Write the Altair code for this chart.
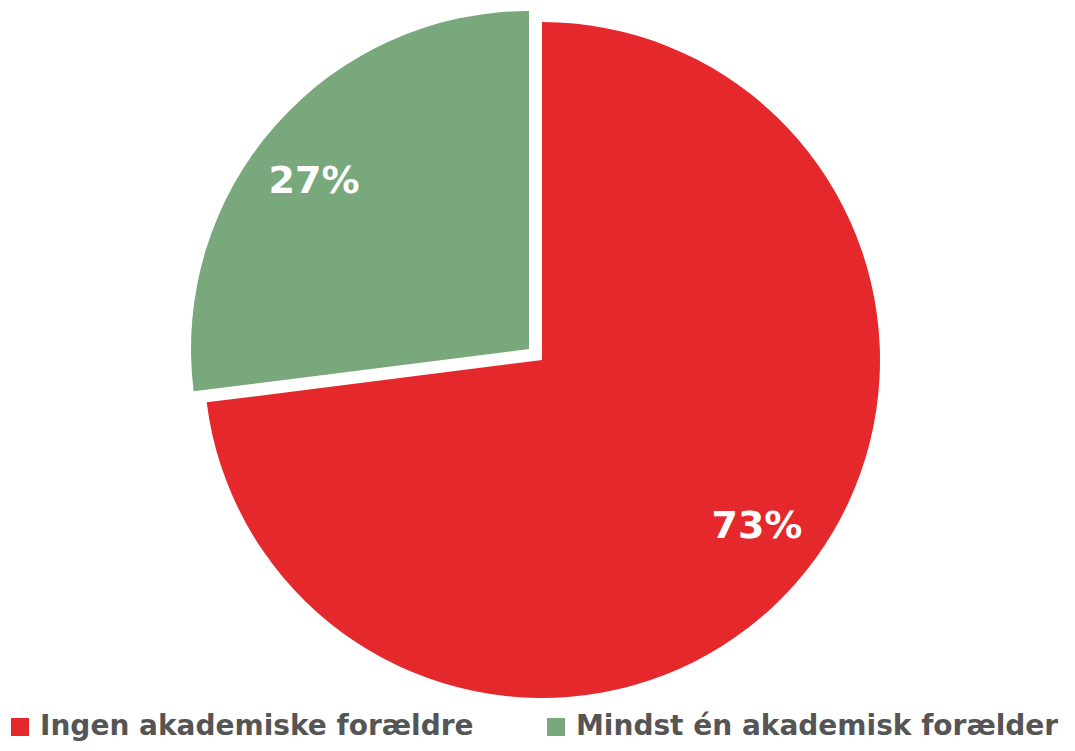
import altair as alt
import pandas as pd

categories = ["Ingen akademiske forældre", "Mindst én akademisk forælder"]
values = [73, 27]
labels = ["73%", "27%"]
colors = ["#E4282C", "#78A87C"]

df = pd.DataFrame({"cat": categories, "value": values, "label": labels, "order": [0, 1]})

CX, CY, R, RL = 534, 352, 338, 272
EX_DX, EX_DY = -13, -11
LABEL_SHIFT = -1.0  # in percent units

base = alt.Chart(df).transform_window(
    end="sum(value)", sort=[alt.SortField("order")], frame=[None, 0]
).transform_calculate(
    start="datum.end - datum.value",
    mid=f"(datum.start + datum.end) / 2 + {LABEL_SHIFT}",
    cx=f"{CX} + (datum.order == 1 ? {EX_DX} : 0)",
    cy=f"{CY} + (datum.order == 1 ? {EX_DY} : 0)",
).transform_calculate(
    lx=f"datum.cx + {RL} * sin(datum.mid / 100 * 2 * PI)",
    ly=f"datum.cy - {RL} * cos(datum.mid / 100 * 2 * PI)",
)

arcs = base.mark_arc(radius=R).encode(
    theta=alt.Theta("start:Q", scale=alt.Scale(domain=[0, 100], range=[0, 6.283185307])),
    theta2="end:Q",
    x=alt.X("cx:Q", scale=None, axis=None),
    y=alt.Y("cy:Q", scale=None, axis=None),
    color=alt.Color(
        "cat:N",
        scale=alt.Scale(domain=categories, range=colors),
        sort=categories,
        legend=alt.Legend(
            title=None,
            orient="none",
            legendX=-2,
            legendY=705,
            direction="horizontal",
            symbolType="square",
            symbolSize=324,
            symbolStrokeWidth=0,
            labelFont="DejaVu Sans",
            labelFontWeight="bold",
            labelFontSize=28,
            labelColor="#555555",
            labelLimit=1000,
            columnPadding=68,
            symbolOffset=0,
            labelOffset=6,
        ),
    ),
)

texts = base.mark_text(
    font="DejaVu Sans", fontWeight="bold", fontSize=38, color="white",
    align="center", baseline="middle",
).encode(
    x=alt.X("lx:Q", scale=None, axis=None),
    y=alt.Y("ly:Q", scale=None, axis=None),
    text="label:N",
)

chart = alt.layer(arcs, texts).properties(
    width=1059, height=735, padding=0, autosize=alt.AutoSizeParams(type="none")
).configure_view(stroke=None)

chart.save("out.html", embed_options={"renderer": "svg", "actions": False})
